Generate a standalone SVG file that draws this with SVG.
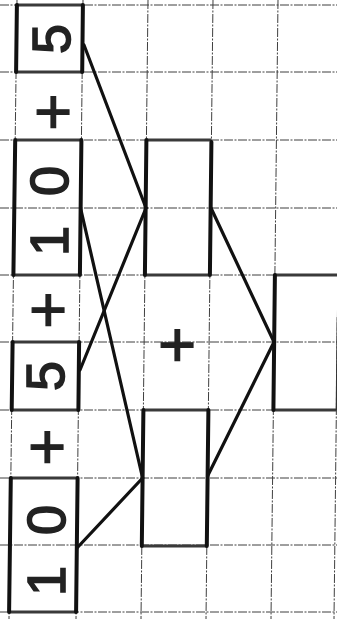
<svg xmlns="http://www.w3.org/2000/svg" width="337" height="619" viewBox="0 0 337 619">
<style>
.grid{stroke:#3f3f3f;stroke-width:1;stroke-dasharray:9 1.5 2 1.5;fill:none}
.v{stroke:#111;stroke-width:4;stroke-linecap:round;fill:none}
.h{stroke:#3a3a3a;stroke-width:3;fill:none}
.thin{stroke:#333;stroke-width:1.5;fill:none}
.c{stroke:#111;stroke-width:3.2;stroke-linecap:round;fill:none}
.d{font-family:"Liberation Sans",Arial,sans-serif;font-size:54px;fill:#222;stroke:#222;stroke-width:1.6;text-anchor:middle}
.p{font-family:"Liberation Sans",Arial,sans-serif;font-size:64px;fill:#222;stroke:#222;stroke-width:1.2;text-anchor:middle}
</style>
<rect width="337" height="619" fill="#fff"/>
<g id="grid">
<line class="grid" x1="17" y1="0" x2="9" y2="619"/>
<line class="grid" x1="83" y1="0" x2="76" y2="619"/>
<line class="grid" x1="148" y1="0" x2="141" y2="619"/>
<line class="grid" x1="213" y1="0" x2="206" y2="619"/>
<line class="grid" x1="278" y1="0" x2="271" y2="619"/>
<line class="grid" x1="341" y1="0" x2="334" y2="619"/>
<line class="grid" x1="0" y1="5" x2="337" y2="5"/>
<line class="grid" x1="0" y1="72" x2="337" y2="72"/>
<line class="grid" x1="0" y1="140" x2="337" y2="140"/>
<line class="grid" x1="0" y1="208" x2="337" y2="208"/>
<line class="grid" x1="0" y1="275" x2="337" y2="275"/>
<line class="grid" x1="0" y1="342" x2="337" y2="342"/>
<line class="grid" x1="0" y1="410" x2="337" y2="410"/>
<line class="grid" x1="0" y1="478" x2="337" y2="478"/>
<line class="grid" x1="0" y1="545" x2="337" y2="545"/>
<line class="grid" x1="0" y1="612" x2="337" y2="612"/>
</g>
<g id="connectors">
<line class="c" x1="84" y1="45" x2="146" y2="208"/>
<line class="c" x1="146" y1="208" x2="80" y2="370"/>
<line class="c" x1="81" y1="210" x2="142.6" y2="478"/>
<line class="c" x1="77" y1="548" x2="142.6" y2="478"/>
<line class="c" x1="211" y1="208" x2="274" y2="342"/>
<line class="c" x1="207.6" y1="476" x2="274" y2="342"/>
</g>
<g id="n-5a">
<line class="h" x1="16.9" y1="5" x2="82.9" y2="5"/>
<line class="h" x1="16.1" y1="72" x2="82.2" y2="72"/>
<line class="v" x1="16.9" y1="5" x2="16.1" y2="72"/>
<line class="v" x1="82.9" y1="5" x2="82.2" y2="72"/>
<text class="d" transform="translate(51,39) rotate(-90)" y="19">5</text>
</g>
<g id="n-plus1"><text class="p" x="52" y="135" transform="rotate(-90 52 112)">+</text></g>
<g id="n-10a">
<line class="h" x1="15.2" y1="140" x2="81.4" y2="140"/>
<line class="h" x1="13.4" y1="275" x2="79.9" y2="275"/>
<line class="v" x1="15.2" y1="140" x2="13.4" y2="275"/>
<line class="v" x1="81.4" y1="140" x2="79.9" y2="275"/>
<text class="d" transform="translate(49,211) rotate(-90)" y="19"><tspan x="-30">1</tspan><tspan x="30">0</tspan></text>
</g>
<g id="n-plus2"><text class="p" x="47" y="333" transform="rotate(-90 47 310)">+</text></g>
<g id="n-5b">
<line class="h" x1="12.6" y1="342" x2="79.1" y2="342"/>
<line class="h" x1="11.7" y1="410" x2="78.4" y2="410"/>
<line class="v" x1="12.6" y1="342" x2="11.7" y2="410"/>
<line class="v" x1="79.1" y1="342" x2="78.4" y2="410"/>
<text class="d" transform="translate(45,376) rotate(-90)" y="19">5</text>
</g>
<g id="n-plus3"><text class="p" x="46" y="470" transform="rotate(-90 46 447)">+</text></g>
<g id="n-10b">
<line class="h" x1="10.8" y1="478" x2="77.6" y2="478"/>
<line class="h" x1="9.1" y1="612" x2="76.1" y2="612"/>
<line class="v" x1="10.8" y1="478" x2="9.1" y2="612"/>
<line class="v" x1="77.6" y1="478" x2="76.1" y2="612"/>
<text class="d" transform="translate(46,550) rotate(-90)" y="19"><tspan x="-31">1</tspan><tspan x="30">0</tspan></text>
</g>
<g id="n-boxA">
<line class="h" x1="146.4" y1="140" x2="211.4" y2="140"/>
<line class="h" x1="144.9" y1="275" x2="209.9" y2="275"/>
<line class="v" x1="146.4" y1="140" x2="144.9" y2="275"/>
<line class="v" x1="211.4" y1="142" x2="209.9" y2="275"/>
</g>
<g id="n-plusMid"><text class="p" x="176" y="368" transform="rotate(-90 176 345)">+</text></g>
<g id="n-boxB">
<line class="h" x1="143.4" y1="410" x2="208.4" y2="410"/>
<line class="h" x1="141.8" y1="546" x2="206.8" y2="546"/>
<line class="v" x1="143.4" y1="410" x2="141.8" y2="546"/>
<line class="v" x1="208.4" y1="410" x2="206.8" y2="546"/>
</g>
<g id="n-boxC">
<line class="h" x1="274.9" y1="275" x2="337" y2="275"/>
<line class="h" x1="273.4" y1="410" x2="336.4" y2="410"/>
<line class="v" x1="274.9" y1="275" x2="273.4" y2="410"/>
<line class="thin" x1="337.4" y1="317" x2="336.4" y2="410"/>
</g>
</svg>
